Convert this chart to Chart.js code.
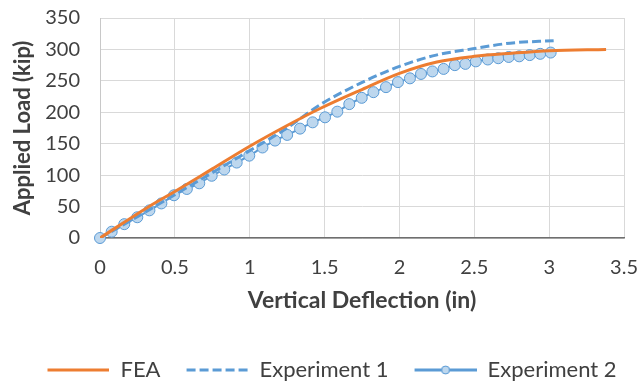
<!DOCTYPE html>
<html>
<head>
<meta charset="utf-8">
<script src="https://cdn.jsdelivr.net/npm/chart.js@4"></script>
<style>
  html, body { margin: 0; padding: 0; background: #fff; }
  #wrap { width: 638px; height: 383px; overflow: hidden; }
</style>
</head>
<body>
<div id="wrap"><canvas id="c" width="638" height="383"></canvas></div>
<script>
// data
const feaX = [0, 0.32, 0.5, 0.75, 1.0, 1.25, 1.47, 1.737, 2.0, 2.25, 2.5, 2.75, 3.0, 3.38];
const feaY = [0, 49, 74, 110, 146, 179, 206, 235, 262, 280, 289, 294, 298, 300];

const exp1X = [0, 0.25, 0.5, 0.75, 1.0, 1.25, 1.47, 1.737, 2.0, 2.245, 2.49, 2.74, 3.03];
const exp1Y = [0, 34, 69, 104, 139, 175, 212, 246, 273, 291, 301, 310, 314];

const exp2X = [0, 0.078, 0.162, 0.249, 0.33, 0.41, 0.494, 0.58, 0.663, 0.746, 0.83, 0.913, 0.997, 1.085, 1.169, 1.25, 1.336, 1.42, 1.503, 1.585, 1.665, 1.748, 1.826, 1.91, 1.99, 2.07, 2.144, 2.22, 2.295, 2.37, 2.44, 2.51, 2.59, 2.66, 2.73, 2.80, 2.87, 2.94, 3.01];
const exp2Y = [0, 10, 22, 33, 44, 55, 68, 78, 87, 99, 109, 120, 131, 144, 155, 164, 174, 184, 192, 201, 213, 223, 232, 240, 248, 254, 261, 265, 269, 275, 277, 281, 284, 286, 288, 289, 291, 293, 295];

const seriesNames = ['FEA', 'Experiment 1', 'Experiment 2'];
const xTicks = [0, 0.5, 1, 1.5, 2, 2.5, 3, 3.5];

const orange = '#ed7d31';
const blue = '#5b9bd5';
const textCol = '#404040';
const fontFam = "Lato, sans-serif";

function pts(xs, ys) {
  return xs.map((x, i) => ({ x: x, y: ys[i] }));
}

// legend symbols (left margin gives the gap between items)
function legendIcon(kind) {
  const cv = document.createElement('canvas');
  cv.width = 78; cv.height = 14;
  const g = cv.getContext('2d');
  g.lineWidth = 3;
  g.strokeStyle = kind === 0 ? orange : blue;
  if (kind === 1) g.setLineDash([9, 4]);
  g.beginPath(); g.moveTo(16, 7); g.lineTo(78, 7); g.stroke();
  if (kind === 2) {
    g.setLineDash([]);
    g.lineWidth = 1;
    g.fillStyle = '#bdd7ee';
    g.beginPath(); g.arc(47, 7, 4, 0, Math.PI * 2); g.fill(); g.stroke();
  }
  return cv;
}
const icons = [legendIcon(0), legendIcon(1), legendIcon(2)];

const data = {
  datasets: [
    {
      label: seriesNames[0],
      data: pts(feaX, feaY),
      borderColor: orange,
      borderWidth: 3,
      pointRadius: 0,
      showLine: true,
      cubicInterpolationMode: 'monotone'
    },
    {
      label: seriesNames[1],
      data: pts(exp1X, exp1Y),
      borderColor: blue,
      borderWidth: 3,
      borderDash: [9, 4],
      pointRadius: 0,
      showLine: true,
      cubicInterpolationMode: 'monotone'
    },
    {
      label: seriesNames[2],
      data: pts(exp2X, exp2Y),
      borderColor: blue,
      borderWidth: 2,
      pointRadius: 5.5,
      pointBorderWidth: 1,
      pointBorderColor: blue,
      pointBackgroundColor: '#bdd7ee',
      showLine: true,
      tension: 0.2,
      clip: false
    }
  ]
};

const options = {
  responsive: false,
  animation: false,
  layout: { padding: { left: 10, right: 0, top: 0, bottom: -8 } },
  plugins: {
    tooltip: { enabled: false },
    legend: {
      position: 'bottom',
      labels: {
        usePointStyle: true,
        pointStyleWidth: 78,
        padding: 10,
        color: textCol,
        font: { family: fontFam, size: 22 },
        generateLabels: (chart) => seriesNames.map((n, i) => ({
          text: n,
          pointStyle: icons[i],
          fillStyle: 'transparent',
          strokeStyle: 'transparent',
          lineWidth: 0,
          datasetIndex: i,
          hidden: false,
          fontColor: textCol
        }))
      }
    }
  },
  scales: {
    x: {
      type: 'linear',
      min: 0,
      max: 3.5,
      afterBuildTicks: (ax) => { ax.ticks = xTicks.map(v => ({ value: v })); },
      afterFit: (ax) => { ax.height = 111; },
      grid: { color: '#d9d9d9', lineWidth: 1, drawTicks: true, tickLength: 18, tickColor: 'rgba(0,0,0,0)' },
      border: { color: '#6f6f6f', width: 1.5 },
      ticks: {
        autoSkip: false,
        color: textCol, font: { family: fontFam, size: 20 }, padding: 0, maxRotation: 0,
        callback: (v) => String(v)
      },
      title: {
        display: true,
        text: 'Vertical Deflection (in)',
        color: textCol,
        font: { family: fontFam, size: 23, weight: 'bold' },
        padding: { top: 4, bottom: 35 }
      }
    },
    y: {
      min: 0,
      max: 350,
      afterFit: (ax) => { ax.width = 90; },
      ticks: { autoSkip: false, stepSize: 50, color: textCol, font: { family: fontFam, size: 20 }, padding: 6 },
      grid: { color: '#d9d9d9', lineWidth: 1, drawTicks: true, tickLength: 14, tickColor: 'rgba(0,0,0,0)' },
      border: { color: '#c8c8c8' },
      title: {
        display: true,
        text: 'Applied Load (kip)',
        color: textCol,
        font: { family: fontFam, size: 22, weight: 'bold' },
        padding: { top: 0, bottom: 4 }
      }
    }
  }
};

new Chart(document.getElementById('c'), { type: 'scatter', data: data, options: options });
</script>
</body>
</html>
